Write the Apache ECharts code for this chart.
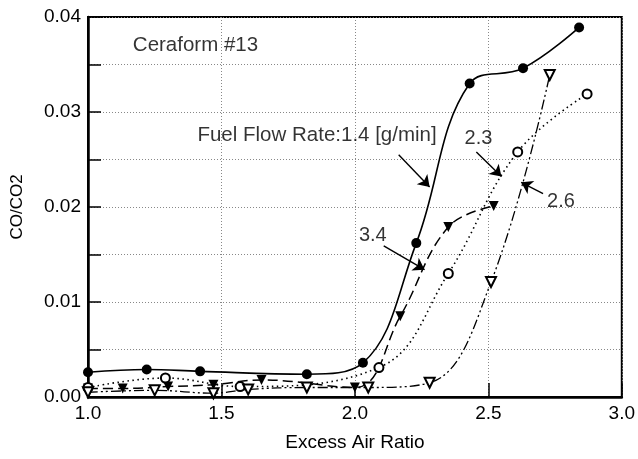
<!DOCTYPE html>
<html>
<head>
<meta charset="utf-8">
<script src="https://cdn.jsdelivr.net/npm/echarts@6/dist/echarts.min.js"></script>
<style>
  html, body { margin: 0; padding: 0; background: #fff; }
</style>
</head>
<body>
<div id="chart" style="width: 638px; height: 459px;"></div>
<script>
// excess air ratio / CO-CO2 readings, one pair of arrays per fuel flow rate
var air14 = [1.0, 1.22, 1.42, 1.82, 2.03, 2.23, 2.43, 2.63, 2.84]
var co14 = [0.0026, 0.0029, 0.0027, 0.0024, 0.0036, 0.0162, 0.0330, 0.0346, 0.0389]

var air23 = [1.0, 1.29, 1.57, 2.09, 2.35, 2.61, 2.87]
var co23 = [0.0010, 0.0020, 0.0011, 0.0031, 0.0130, 0.0258, 0.0319]

var air26 = [1.0, 1.25, 1.47, 1.60, 1.82, 2.05, 2.28, 2.51, 2.73]
var co26 = [0.0005, 0.0007, 0.0004, 0.0008, 0.0010, 0.0010, 0.0015, 0.0121, 0.0339]

var air34 = [1.0, 1.13, 1.30, 1.47, 1.65, 2.00, 2.17, 2.35, 2.52]
var co34 = [0.0009, 0.0009, 0.0011, 0.0013, 0.0018, 0.0010, 0.0085, 0.0179, 0.0201]

var xTicks = [1.0, 1.5, 2.0, 2.5, 3.0]
var yTicks = [0.00, 0.01, 0.02, 0.03, 0.04]

// annotation texts and arrows, in data units
var notes = [
  { text: 'Ceraform #13', at: [1.168, 0.0370], align: 'left' },
  { text: 'Fuel Flow Rate:1.4 [g/min]', at: [1.410, 0.0275], align: 'left' },
  { text: '2.3', at: [2.463, 0.0272], align: 'center' },
  { text: '2.6', at: [2.772, 0.0206], align: 'center' },
  { text: '3.4', at: [2.067, 0.0170], align: 'center' }
]
var arrows = [
  [[2.164, 0.0255], [2.280, 0.0221]],
  [[2.455, 0.0258], [2.549, 0.0232]],
  [[2.705, 0.0214], [2.623, 0.0226]],
  [[2.108, 0.0159], [2.261, 0.0134]]
]

var FONT = "'Liberation Sans', Arial, sans-serif"

function pairs (xs, ys) {
  return xs.map(function (x, i) { return [x, ys[i]] })
}

var option = {
  animation: false,
  backgroundColor: '#fff',
  textStyle: { fontFamily: FONT, color: '#000' },
  grid: {
    left: 88,
    right: 14,
    top: 17,
    bottom: 62,
    show: true,
    borderColor: '#000',
    borderWidth: 2
  },
  xAxis: {
    type: 'value',
    min: xTicks[0],
    max: xTicks[xTicks.length - 1],
    interval: 0.5,
    name: 'Excess Air Ratio',
    nameLocation: 'middle',
    nameGap: 36,
    nameTextStyle: { fontSize: 19, fontFamily: FONT, color: '#000' },
    axisLine: { lineStyle: { color: '#000', width: 2.5 } },
    axisTick: { inside: true, length: 14, lineStyle: { color: '#000', width: 1.5 } },
    axisLabel: {
      fontSize: 19,
      color: '#000',
      margin: 7,
      formatter: function (v) { return v.toFixed(1) }
    },
    splitLine: { lineStyle: { color: '#888', type: [1, 2], width: 1 } }
  },
  yAxis: {
    type: 'value',
    min: yTicks[0],
    max: yTicks[yTicks.length - 1],
    interval: 0.01,
    name: 'CO/CO2',
    nameLocation: 'middle',
    nameGap: 62,
    nameTextStyle: { fontSize: 17, fontFamily: FONT, color: '#000' },
    axisLine: { lineStyle: { color: '#000', width: 2.5 } },
    axisTick: { inside: true, length: 13, lineStyle: { color: '#000', width: 1.5 } },
    minorTick: { show: true, splitNumber: 2, length: 13, lineStyle: { color: '#000', width: 1.5 } },
    minorSplitLine: { show: true, lineStyle: { color: '#888', type: [1, 2], width: 1 } },
    axisLabel: {
      fontSize: 19,
      color: '#000',
      margin: 7,
      formatter: function (v) { return v.toFixed(2) }
    },
    splitLine: { lineStyle: { color: '#888', type: [1, 2], width: 1 } }
  },
  series: [
    {
      name: '1.4',
      type: 'line',
      smooth: 0.4,
      data: pairs(air14, co14),
      symbol: 'circle',
      symbolSize: 10,
      itemStyle: { color: '#000' },
      lineStyle: { color: '#000', width: 1.6 },
      markLine: {
        silent: true,
        symbol: ['none', 'arrow'],
        symbolSize: 11,
        label: { show: false },
        lineStyle: { color: '#000', width: 1.4, type: 'solid' },
        data: arrows.map(function (a) {
          return [{ coord: a[0] }, { coord: a[1] }]
        })
      }
    },
    {
      name: '3.4',
      type: 'line',
      smooth: 0.4,
      data: pairs(air34, co34),
      symbol: 'triangle',
      symbolRotate: 180,
      symbolSize: 10,
      itemStyle: { color: '#000' },
      lineStyle: { color: '#000', width: 1.5, type: [10, 5] }
    },
    {
      name: '2.3',
      type: 'line',
      smooth: 0.4,
      data: pairs(air23, co23),
      symbol: 'emptyCircle',
      symbolSize: 9,
      itemStyle: { color: '#000', borderWidth: 1.2 },
      lineStyle: { color: '#000', width: 1.6, type: [1.5, 3.5] }
    },
    {
      name: '2.6',
      type: 'line',
      smooth: 0.4,
      data: pairs(air26, co26),
      symbol: 'emptyTriangle',
      symbolRotate: 180,
      symbolSize: 10,
      itemStyle: { color: '#000', borderWidth: 1.2 },
      lineStyle: { color: '#000', width: 1.3, type: [10, 3, 2, 3, 2, 3] }
    },
    {
      name: 'notes',
      type: 'scatter',
      symbolSize: 0,
      silent: true,
      data: notes.map(function (n) {
        return {
          value: n.at,
          label: {
            show: true,
            position: n.align === 'left' ? 'right' : 'inside',
            distance: 0,
            formatter: n.text,
            fontSize: n.align === 'left' ? 20.5 : 20,
            fontFamily: FONT,
            color: '#000'
          }
        }
      })
    }
  ]
}

var myChart = echarts.init(document.getElementById('chart'))
myChart.setOption(option)
</script>
</body>
</html>
